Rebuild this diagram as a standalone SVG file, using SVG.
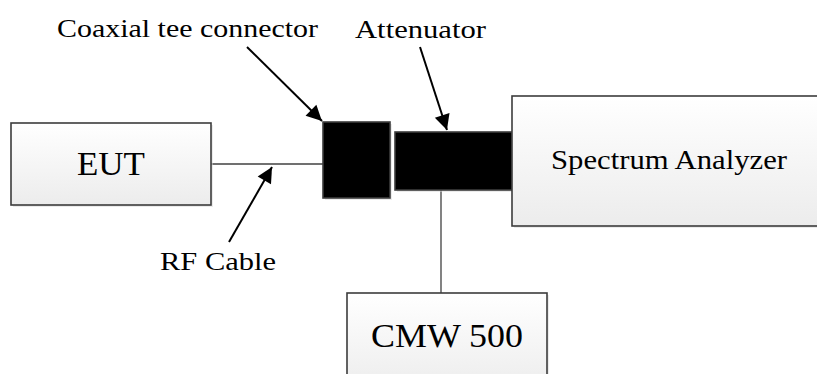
<svg xmlns="http://www.w3.org/2000/svg" width="817" height="374" viewBox="0 0 817 374">
<style>
.box{fill:url(#g);stroke:#3c3c3c;stroke-width:1.6}
.blk{fill:#000;stroke:#3c3c3c;stroke-width:1.6}
.sh{fill:#d8d8d8;opacity:0.5}
.t{font-family:"Liberation Serif","Times New Roman",serif;fill:#000}
.wire{stroke:#404040;stroke-width:1.3;fill:none}
.arr{stroke:#000;stroke-width:2;fill:none;marker-end:url(#ah)}
</style>
<defs>
<linearGradient id="g" x1="0" y1="0" x2="0" y2="1">
<stop offset="0" stop-color="#ffffff"/>
<stop offset="1" stop-color="#ececec"/>
</linearGradient>
<marker id="ah" viewBox="0 0 10 10" refX="10" refY="5" markerWidth="7" markerHeight="7" markerUnits="userSpaceOnUse" orient="auto" style="overflow:visible">
<path d="M0,0 L10,5 L0,10 z" fill="#000" transform="scale(2.2) translate(-5.5,-2.7)"/>
</marker>
</defs>
<rect width="817" height="374" fill="#fff"/>
<g id="connectors">
<line class="wire" x1="211" y1="164" x2="323" y2="164"/>
<line class="wire" x1="441" y1="190" x2="441" y2="293"/>
</g>
<g id="eut">
<rect class="sh" x="13" y="125" width="200" height="82"/>
<rect class="box" x="11" y="123" width="200" height="82"/>
<text class="t" x="77" y="175" font-size="33" textLength="68" lengthAdjust="spacingAndGlyphs">EUT</text>
</g>
<g id="tee">
<rect class="sh" x="325" y="124" width="67" height="76"/>
<rect class="blk" x="323" y="122" width="67" height="76"/>
</g>
<g id="attenuator">
<rect class="sh" x="397" y="134" width="117" height="58"/>
<rect class="blk" x="395" y="132" width="117" height="58"/>
</g>
<g id="spectrum">
<rect class="sh" x="514" y="98" width="310" height="130"/>
<rect class="box" x="512" y="96" width="310" height="130"/>
<text class="t" x="551" y="169" font-size="28" textLength="236" lengthAdjust="spacingAndGlyphs">Spectrum Analyzer</text>
</g>
<g id="cmw">
<rect class="sh" x="349" y="295" width="200" height="100"/>
<rect class="box" x="347" y="293" width="200" height="100"/>
<text class="t" x="371" y="347" font-size="33" textLength="152" lengthAdjust="spacingAndGlyphs">CMW 500</text>
</g>
<g id="labels">
<text class="t" x="57" y="37" font-size="26" textLength="261" lengthAdjust="spacingAndGlyphs">Coaxial tee connector</text>
<line class="arr" x1="247" y1="47" x2="322" y2="121"/>
<text class="t" x="355" y="38" font-size="26" textLength="131" lengthAdjust="spacingAndGlyphs">Attenuator</text>
<line class="arr" x1="420" y1="47" x2="447" y2="130"/>
<text class="t" x="160" y="270" font-size="26" textLength="116" lengthAdjust="spacingAndGlyphs">RF Cable</text>
<line class="arr" x1="229" y1="242" x2="272" y2="167"/>
</g>
</svg>
